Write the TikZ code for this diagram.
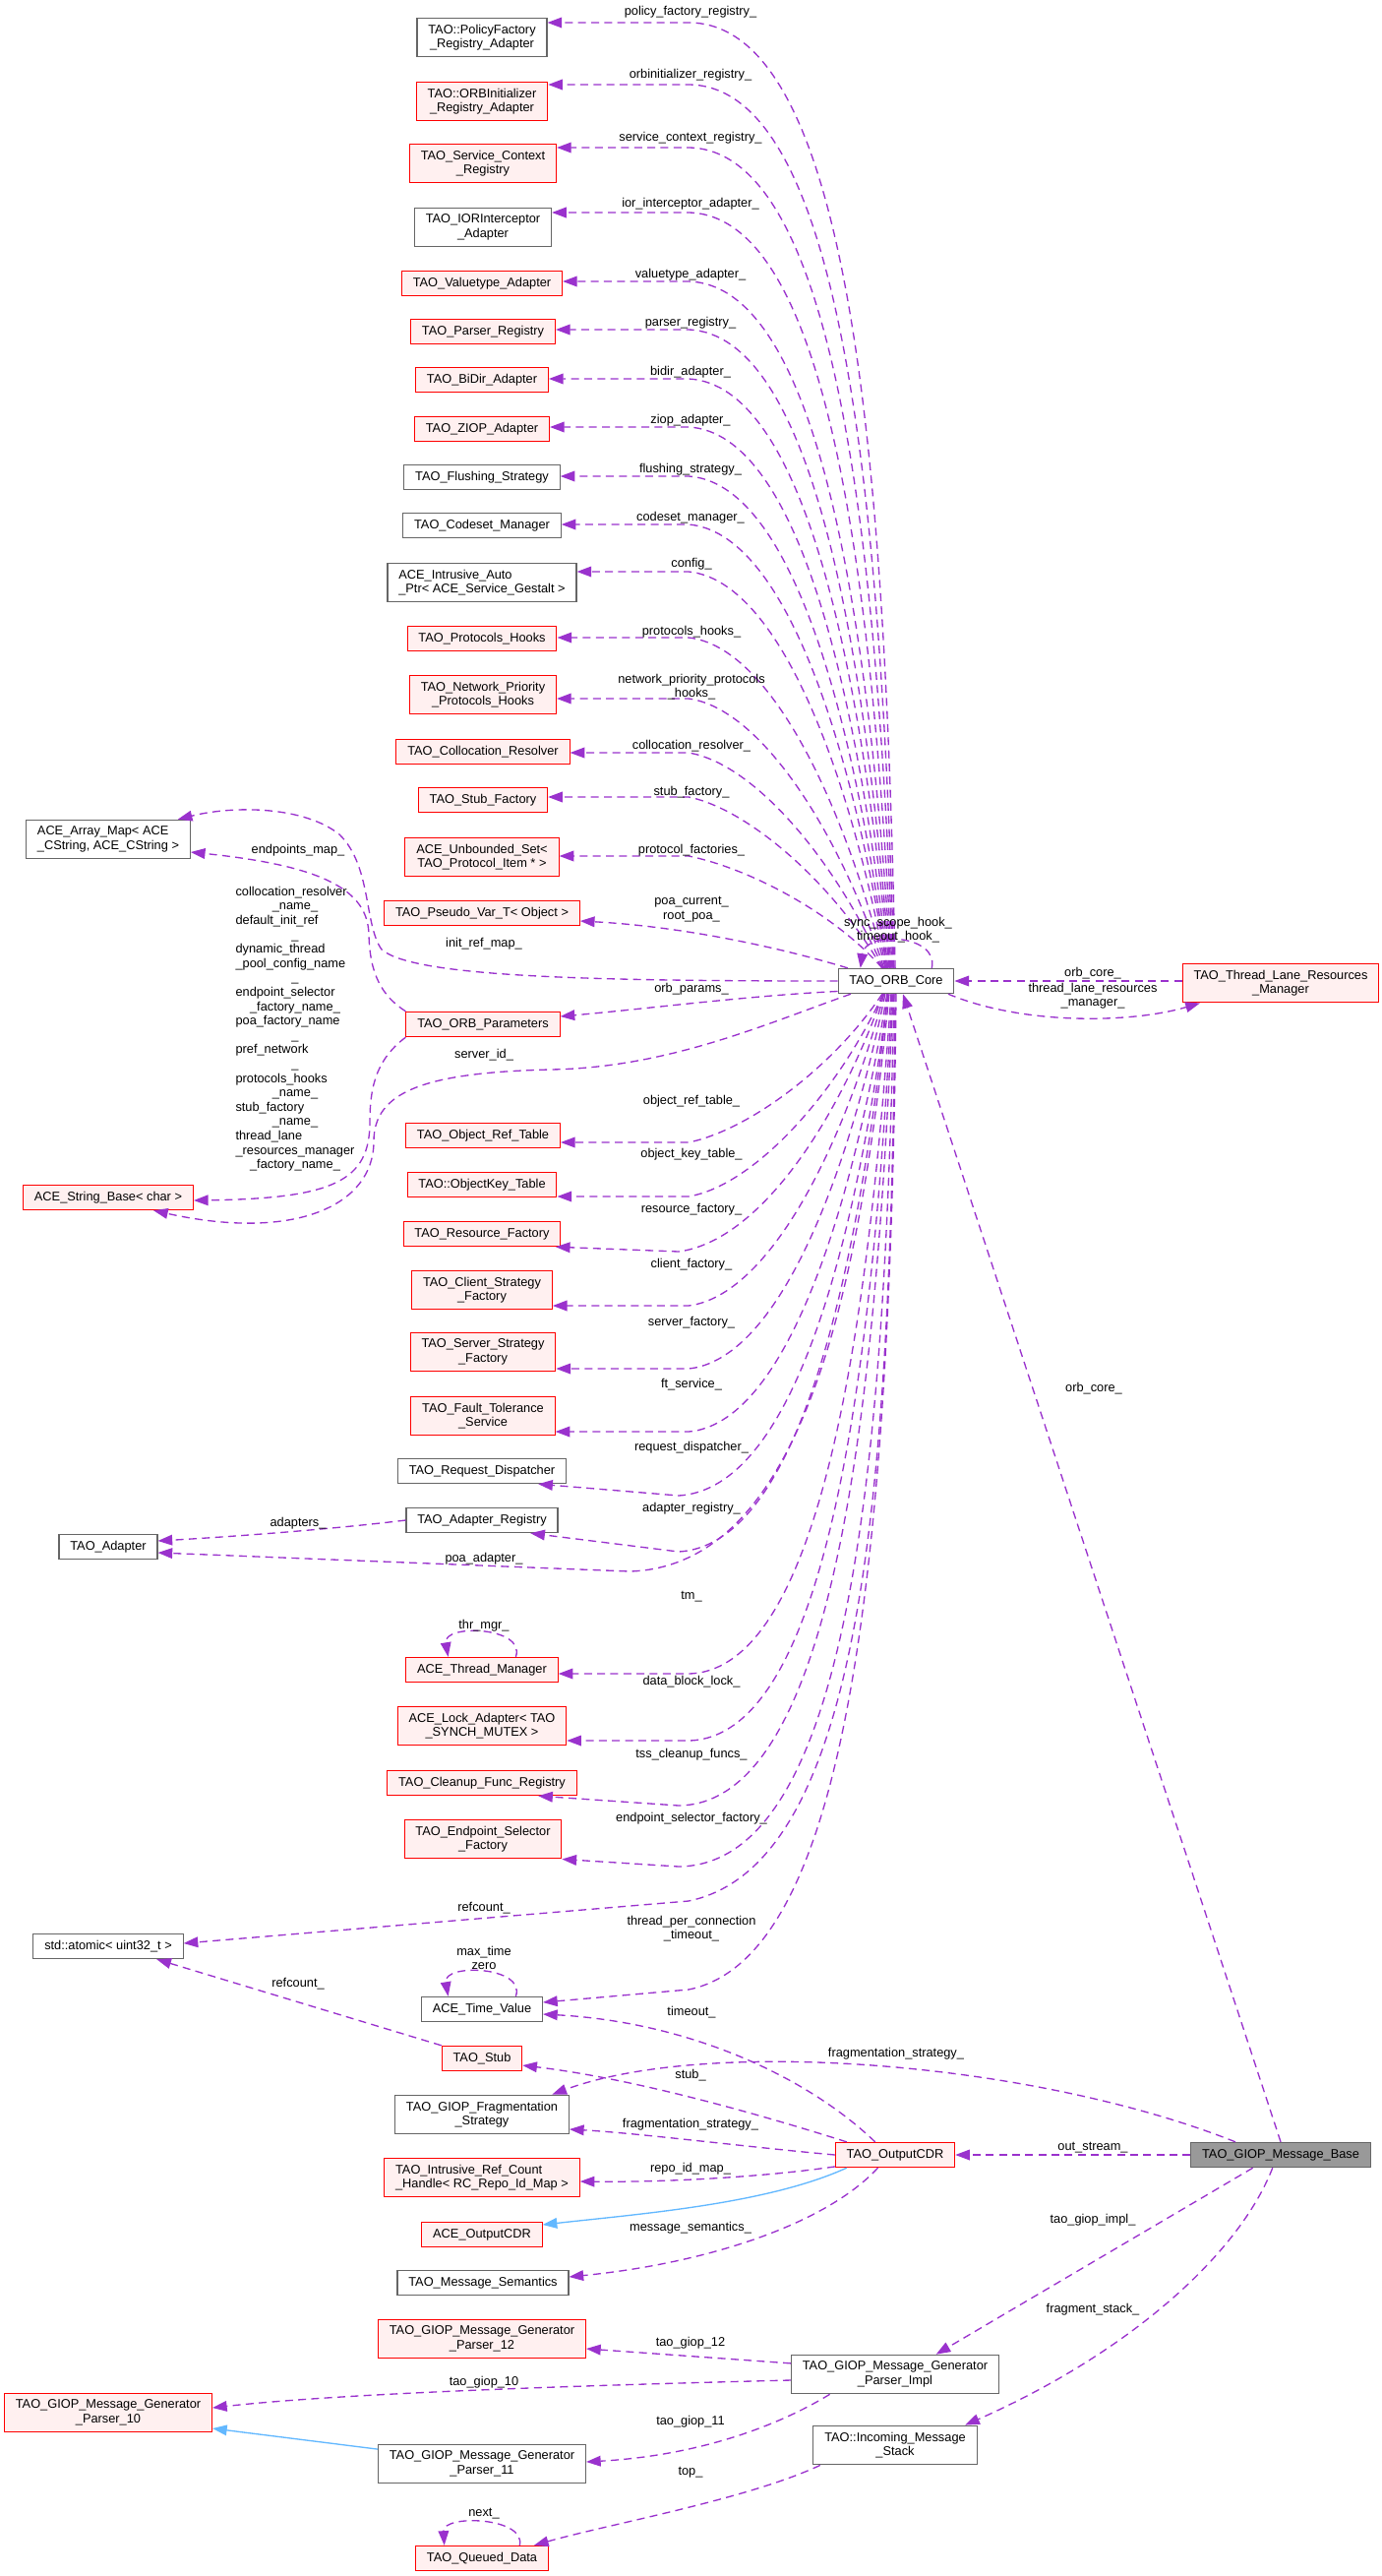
\documentclass[tikz,border=0pt]{standalone}
\usepackage{fontspec}
\setmainfont{Liberation Sans}
\usetikzlibrary{arrows.meta}
\definecolor{edgepurple}{HTML}{9A32CD}
\definecolor{inheritblue}{HTML}{63B8FF}
\definecolor{redfill}{HTML}{FFF0F0}
\definecolor{boxgray}{HTML}{666666}
\definecolor{mainfill}{HTML}{999999}
\newcommand{\centerrow}[1]{\multicolumn{1}{@{}c@{}}{#1}}
\begin{document}
\begin{tikzpicture}[x=0.75pt,y=-0.75pt,
    every node/.append style={font=\fontsize{9.6}{10.95}\selectfont},
    cls/.style={draw=boxgray,fill=white,line width=0.8pt,align=center,inner xsep=8.5pt,inner ysep=5pt,minimum height=19pt},
    redcls/.style={cls,draw=red,fill=redfill},
    maincls/.style={cls,fill=mainfill},
    lbl/.style={inner sep=0pt,align=center},
    member/.style={edgepurple,line width=1pt,dash pattern=on 6pt off 4pt,-{Triangle[length=11pt,width=8pt]}},
    inherit/.style={inheritblue,line width=1pt,-{Triangle[length=11pt,width=8pt]}}]
    \useasboundingbox (0,0) rectangle (1404,2618);
    % classes
    \node[cls] (policy) at (490,38) {TAO::PolicyFactory\\\_Registry\_Adapter};
    \node[redcls] (orbinit) at (490,103) {TAO::ORBInitializer\\\_Registry\_Adapter};
    \node[redcls] (servicectx) at (491,166) {TAO\_Service\_Context\\\_Registry};
    \node[cls] (iorint) at (491,231) {TAO\_IORInterceptor\\\_Adapter};
    \node[redcls] (valuetype) at (490,288) {TAO\_Valuetype\_Adapter};
    \node[redcls] (parserreg) at (491,337) {TAO\_Parser\_Registry};
    \node[redcls] (bidir) at (490,386) {TAO\_BiDir\_Adapter};
    \node[redcls] (ziop) at (490,436) {TAO\_ZIOP\_Adapter};
    \node[cls] (flushing) at (490,485) {TAO\_Flushing\_Strategy};
    \node[cls] (codeset) at (490,534) {TAO\_Codeset\_Manager};
    \node[cls,align=left] (autoptr) at (490,592) {ACE\_Intrusive\_Auto\\\_Ptr< ACE\_Service\_Gestalt >};
    \node[redcls] (protohooks) at (490,649) {TAO\_Protocols\_Hooks};
    \node[redcls] (netprio) at (491,706) {TAO\_Network\_Priority\\\_Protocols\_Hooks};
    \node[redcls] (colloc) at (491,764) {TAO\_Collocation\_Resolver};
    \node[redcls] (stubfactory) at (491,813) {TAO\_Stub\_Factory};
    \node[redcls] (protoset) at (490,871) {ACE\_Unbounded\_Set<\\TAO\_Protocol\_Item * >};
    \node[redcls] (pseudovar) at (490,928) {TAO\_Pseudo\_Var\_T< Object >};
    \node[cls,align=left] (arraymap) at (110,853) {ACE\_Array\_Map< ACE\\\_CString, ACE\_CString >};
    \node[cls] (core) at (911,997) {TAO\_ORB\_Core};
    \node[redcls] (threadlane) at (1302,999) {TAO\_Thread\_Lane\_Resources\\\_Manager};
    \node[redcls] (orbparams) at (491,1041) {TAO\_ORB\_Parameters};
    \node[redcls] (stringbase) at (110,1217) {ACE\_String\_Base< char >};
    \node[redcls] (objreftable) at (491,1154) {TAO\_Object\_Ref\_Table};
    \node[redcls] (objkeytable) at (490,1204) {TAO::ObjectKey\_Table};
    \node[redcls] (resfactory) at (490,1254) {TAO\_Resource\_Factory};
    \node[redcls] (clientstrat) at (490,1311) {TAO\_Client\_Strategy\\\_Factory};
    \node[redcls] (serverstrat) at (491,1374) {TAO\_Server\_Strategy\\\_Factory};
    \node[redcls] (faulttol) at (491,1439) {TAO\_Fault\_Tolerance\\\_Service};
    \node[cls] (reqdisp) at (490,1495) {TAO\_Request\_Dispatcher};
    \node[cls] (adapterreg) at (490,1545) {TAO\_Adapter\_Registry};
    \node[cls] (adapter) at (110,1572) {TAO\_Adapter};
    \node[redcls] (threadmgr) at (490,1697) {ACE\_Thread\_Manager};
    \node[redcls] (lockadapter) at (490,1754) {ACE\_Lock\_Adapter< TAO\\\_SYNCH\_MUTEX >};
    \node[redcls] (cleanup) at (490,1812) {TAO\_Cleanup\_Func\_Registry};
    \node[redcls] (endpointsel) at (491,1869) {TAO\_Endpoint\_Selector\\\_Factory};
    \node[cls] (atomic) at (110,1978) {std::atomic< uint32\_t >};
    \node[cls] (timevalue) at (490,2042) {ACE\_Time\_Value};
    \node[redcls] (stub) at (490,2092) {TAO\_Stub};
    \node[cls] (fragstrat) at (490,2149) {TAO\_GIOP\_Fragmentation\\\_Strategy};
    \node[redcls] (outcdr) at (910,2190) {TAO\_OutputCDR};
    \node[maincls] (msgbase) at (1302,2190) {TAO\_GIOP\_Message\_Base};
    \node[redcls,align=left] (repomap) at (490,2213) {TAO\_Intrusive\_Ref\_Count\\\_Handle< RC\_Repo\_Id\_Map >};
    \node[redcls] (aceoutcdr) at (490,2271) {ACE\_OutputCDR};
    \node[cls] (msgsem) at (491,2320) {TAO\_Message\_Semantics};
    \node[redcls] (parser12) at (490,2377) {TAO\_GIOP\_Message\_Generator\\\_Parser\_12};
    \node[cls] (parserimpl) at (910,2413) {TAO\_GIOP\_Message\_Generator\\\_Parser\_Impl};
    \node[redcls] (parser10) at (110,2452) {TAO\_GIOP\_Message\_Generator\\\_Parser\_10};
    \node[cls] (msgstack) at (910,2485) {TAO::Incoming\_Message\\\_Stack};
    \node[cls] (parser11) at (490,2504) {TAO\_GIOP\_Message\_Generator\\\_Parser\_11};
    \node[redcls] (queued) at (490,2600) {TAO\_Queued\_Data};
    % members above the core
    \draw[member] (core.94) .. controls (900,504) and (870,23) .. (700,23) -- (policy.east |- 0,23);
    \draw[member] (core.99) .. controls (896,535) and (861,87) .. (700,86) -- (orbinit.east |- 0,86);
    \draw[member] (core.103) .. controls (892,567) and (852,152) .. (700,150) -- (servicectx.east |- 0,150);
    \draw[member] (core.107) .. controls (887,600) and (844,219) .. (700,216) -- (iorint.east |- 0,216);
    \draw[member] (core.111) .. controls (883,635) and (834,290) .. (700,286) -- (valuetype.east |- 0,286);
    \draw[member] (core.115) .. controls (879,660) and (827,340) .. (700,335) -- (parserreg.east |- 0,335);
    \draw[member] (core.118) .. controls (876,685) and (819,391) .. (700,385) -- (bidir.east |- 0,385);
    \draw[member] (core.122) .. controls (872,709) and (813,440) .. (700,434) -- (ziop.east |- 0,434);
    \draw[member] (core.125) .. controls (869,734) and (806,491) .. (700,484) -- (flushing.east |- 0,484);
    \draw[member] (core.125) .. controls (866,759) and (799,541) .. (700,533) -- (codeset.east |- 0,533);
    \draw[member] (core.128) .. controls (863,783) and (792,590) .. (700,581) -- (autoptr.east |- 0,581);
    \draw[member] (core.130) .. controls (858,816) and (783,657) .. (700,648) -- (protohooks.east |- 0,648);
    \draw[member] (core.133) .. controls (854,847) and (774,720) .. (700,710) -- (netprio.east |- 0,710);
    \draw[member] (core.135) .. controls (850,875) and (767,776) .. (700,765) -- (colloc.east |- 0,765);
    \draw[member] (core.137) .. controls (847,897) and (760,822) .. (700,810) -- (stubfactory.east |- 0,810);
    \draw[member] (core.137) .. controls (847,927) and (760,882) .. (700,870) -- (protoset.east |- 0,870);
    \draw[member] (core.165) .. controls (800,965) and (700,942) .. (pseudovar.east |- 0,936);
    \draw[member] (core.20) .. controls (955,950) and (880,945) .. (core.160);
    % members to the left and below the core
    \draw[member] (core.west) .. controls (600,997) and (420,993) .. (388,965) .. controls (370,940) and (378,880) .. (345,848) .. controls (310,820) and (240,818) .. (arraymap.16);
    \draw[member] (orbparams.north west) .. controls (388,1012) and (376,990) .. (375,950) .. controls (374,905) and (330,880) .. (arraymap.east |- 0,866);
    \draw[member] (orbparams.south west) .. controls (385,1075) and (376,1100) .. (376,1140) .. controls (376,1200) and (340,1218) .. (stringbase.east |- 0,1220);
    \draw[member] (core.196) .. controls (780,1040) and (680,1085) .. (560,1087) .. controls (430,1090) and (380,1110) .. (380,1160) .. controls (380,1225) and (300,1262) .. (stringbase.344);
    \draw[member] (core.190) .. controls (760,1012) and (660,1025) .. (orbparams.east |- 0,1033);
    \draw[member] (threadlane.west |- core.east) -- (core.east);
    \draw[member] (core.346) .. controls (1040,1042) and (1150,1040) .. (threadlane.194);
    \draw[member] (core.223) .. controls (847,1085) and (760,1149) .. (700,1161) -- (objreftable.east |- 0,1161);
    \draw[member] (core.225) .. controls (850,1113) and (766,1205) .. (700,1216) -- (objkeytable.east |- 0,1216);
    \draw[member] (core.225) .. controls (852,1140) and (772,1261) .. (690,1272) -- (resfactory.350);
    \draw[member] (core.227) .. controls (857,1168) and (781,1317) .. (700,1327) -- (clientstrat.east |- 0,1327);
    \draw[member] (core.230) .. controls (861,1200) and (790,1382) .. (700,1391) -- (serverstrat.east |- 0,1391);
    \draw[member] (core.235) .. controls (866,1232) and (798,1447) .. (700,1455) -- (faulttol.east |- 0,1455);
    \draw[member] (core.238) .. controls (870,1263) and (807,1513) .. (690,1520) -- (reqdisp.347);
    \draw[member] (core.238) .. controls (873,1287) and (814,1570) .. (690,1577) -- (adapterreg.345);
    \draw[member] (core.242) .. controls (875,1302) and (818,1592) .. (640,1597) -- (adapter.east |- 0,1578);
    \draw[member] (adapterreg.west) .. controls (330,1555) and (230,1562) .. (adapter.east |- 0,1566);
    \draw[member] (core.249) .. controls (882,1356) and (833,1698) .. (700,1701) -- (threadmgr.east |- 0,1701);
    \draw[member] (threadmgr.21) .. controls (535,1653) and (450,1650) .. (threadmgr.159);
    \draw[member] (core.253) .. controls (887,1390) and (842,1766) .. (700,1769) -- (lockadapter.east |- 0,1769);
    \draw[member] (core.257) .. controls (891,1420) and (850,1833) .. (690,1835) -- (cleanup.347);
    \draw[member] (core.261) .. controls (900,1452) and (870,1895) .. (690,1897) -- (endpointsel.south east);
    \draw[member] (core.266) .. controls (905,1500) and (880,1895) .. (700,1932) -- (atomic.east |- 0,1975);
    \draw[member] (core.south) .. controls (905,1600) and (860,1990) .. (700,2022) -- (timevalue.east |- 0,2035);
    \draw[member] (timevalue.21) .. controls (535,1998) and (450,1995) .. (timevalue.159);
    \draw[member] (stub.north west) -- (atomic.345);
    % output stream and message base
    \draw[member] (outcdr.147) .. controls (820,2110) and (700,2055) .. (timevalue.east |- 0,2047);
    \draw[member] (outcdr.165) .. controls (760,2145) and (640,2112) .. (stub.east |- 0,2099);
    \draw[member] (outcdr.west) .. controls (760,2182) and (650,2168) .. (fragstrat.east |- 0,2164);
    \draw[member] (outcdr.191) .. controls (780,2212) and (680,2218) .. (repomap.east |- 0,2217);
    \draw[inherit] (outcdr.195) .. controls (780,2240) and (650,2250) .. (aceoutcdr.east |- 0,2261);
    \draw[member] (outcdr.217) .. controls (840,2260) and (720,2300) .. (msgsem.east |- 0,2314);
    \draw[member] (msgbase.north) -- (core.298);
    \draw[member] (msgbase.west) -- (outcdr.east);
    \draw[member] (msgbase.164) .. controls (1050,2095) and (720,2070) .. (fragstrat.16);
    \draw[member] (msgbase.205) -- (parserimpl.26);
    \draw[member] (msgbase.238) .. controls (1260,2290) and (1150,2390) .. (msgstack.16);
    \draw[member] (parserimpl.174) -- (parser12.east |- 0,2387);
    \draw[member] (parserimpl.west |- 0,2419) .. controls (600,2424) and (350,2432) .. (parser10.east |- 0,2447);
    \draw[member] (parserimpl.197) .. controls (800,2460) and (720,2495) .. (parser11.east |- 0,2502);
    \draw[inherit] (parser11.172) -- (parser10.east |- 0,2468);
    \draw[member] (msgstack.195) .. controls (760,2540) and (620,2565) .. (queued.14);
    \draw[member] (queued.19) .. controls (535,2558) and (450,2555) .. (queued.161);
    % edge labels
    \node[lbl] (lpolicy) at (702,12) {policy\_factory\_registry\_};
    \node[lbl] (lorbinit) at (702,76) {orbinitializer\_registry\_};
    \node[lbl] (lservicectx) at (702,140) {service\_context\_registry\_};
    \node[lbl] (liorint) at (702,207) {ior\_interceptor\_adapter\_};
    \node[lbl] (lvaluetype) at (702,279) {valuetype\_adapter\_};
    \node[lbl] (lparserreg) at (702,328) {parser\_registry\_};
    \node[lbl] (lbidir) at (702,378) {bidir\_adapter\_};
    \node[lbl] (lziop) at (702,427) {ziop\_adapter\_};
    \node[lbl] (lflushing) at (702,477) {flushing\_strategy\_};
    \node[lbl] (lcodeset) at (702,526) {codeset\_manager\_};
    \node[lbl] (lautoptr) at (703,573) {config\_};
    \node[lbl] (lprotohooks) at (703,642) {protocols\_hooks\_};
    \node[lbl] (lnetprio) at (703,698) {network\_priority\_protocols\\\_hooks\_};
    \node[lbl] (lcolloc) at (703,758) {collocation\_resolver\_};
    \node[lbl] (lstubfactory) at (703,805) {stub\_factory\_};
    \node[lbl] (lprotoset) at (703,864) {protocol\_factories\_};
    \node[lbl] (lpseudovar) at (703,924) {poa\_current\_\\root\_poa\_};
    \node[lbl] (lcore) at (913,945) {sync\_scope\_hook\_\\timeout\_hook\_};
    \node[lbl] (lirmap) at (492,959) {init\_ref\_map\_};
    \node[lbl] (lendpoints) at (303,864) {endpoints\_map\_};
    \node[lbl] (lparams) at (300,1046) {\begin{tabular}{@{}l@{}}collocation\_resolver\\\centerrow{\_name\_}\\default\_init\_ref\\\centerrow{\_}\\dynamic\_thread\\\_pool\_config\_name\\\centerrow{\_}\\endpoint\_selector\\\centerrow{\_factory\_name\_}\\poa\_factory\_name\\\centerrow{\_}\\pref\_network\\\centerrow{\_}\\protocols\_hooks\\\centerrow{\_name\_}\\stub\_factory\\\centerrow{\_name\_}\\thread\_lane\\\_resources\_manager\\\centerrow{\_factory\_name\_}\end{tabular}};
    \node[lbl] (lorbparams) at (703,1005) {orb\_params\_};
    \node[lbl] (lthreadcore) at (1111,989) {orb\_core\_};
    \node[lbl] (lthreadlane) at (1111,1012) {thread\_lane\_resources\\\_manager\_};
    \node[lbl] (lserverid) at (492,1072) {server\_id\_};
    \node[lbl] (lobjref) at (703,1119) {object\_ref\_table\_};
    \node[lbl] (lobjkey) at (703,1173) {object\_key\_table\_};
    \node[lbl] (lresfactory) at (703,1229) {resource\_factory\_};
    \node[lbl] (lclient) at (703,1285) {client\_factory\_};
    \node[lbl] (lserver) at (703,1344) {server\_factory\_};
    \node[lbl] (lft) at (703,1407) {ft\_service\_};
    \node[lbl] (lreqdisp) at (703,1471) {request\_dispatcher\_};
    \node[lbl] (ladapterreg) at (703,1533) {adapter\_registry\_};
    \node[lbl] (ladapters) at (303,1548) {adapters\_};
    \node[lbl] (lpoaadapter) at (492,1584) {poa\_adapter\_};
    \node[lbl] (lmsgcore) at (1112,1411) {orb\_core\_};
    \node[lbl] (ltm) at (703,1623) {tm\_};
    \node[lbl] (lthrmgr) at (492,1652) {thr\_mgr\_};
    \node[lbl] (ldatalock) at (703,1709) {data\_block\_lock\_};
    \node[lbl] (ltss) at (703,1783) {tss\_cleanup\_funcs\_};
    \node[lbl] (lendpointsel) at (703,1848) {endpoint\_selector\_factory\_};
    \node[lbl] (lrefcore) at (492,1939) {refcount\_};
    \node[lbl] (ltimeoutcore) at (703,1960) {thread\_per\_connection\\\_timeout\_};
    \node[lbl] (ltimevalue) at (492,1990) {max\_time\\zero};
    \node[lbl] (lrefstub) at (303,2016) {refcount\_};
    \node[lbl] (ltimeout) at (703,2045) {timeout\_};
    \node[lbl] (lfragbase) at (911,2087) {fragmentation\_strategy\_};
    \node[lbl] (lstub) at (702,2109) {stub\_};
    \node[lbl] (lfragcdr) at (702,2159) {fragmentation\_strategy\_};
    \node[lbl] (loutstream) at (1111,2183) {out\_stream\_};
    \node[lbl] (lrepomap) at (702,2204) {repo\_id\_map\_};
    \node[lbl] (lgiopimpl) at (1111,2256) {tao\_giop\_impl\_};
    \node[lbl] (lmsgsem) at (702,2264) {message\_semantics\_};
    \node[lbl] (lfragstack) at (1111,2347) {fragment\_stack\_};
    \node[lbl] (lgiop12) at (702,2381) {tao\_giop\_12};
    \node[lbl] (lgiop10) at (492,2421) {tao\_giop\_10};
    \node[lbl] (lgiop11) at (702,2461) {tao\_giop\_11};
    \node[lbl] (ltop) at (702,2513) {top\_};
    \node[lbl] (lnext) at (492,2555) {next\_};
\end{tikzpicture}
\end{document}
